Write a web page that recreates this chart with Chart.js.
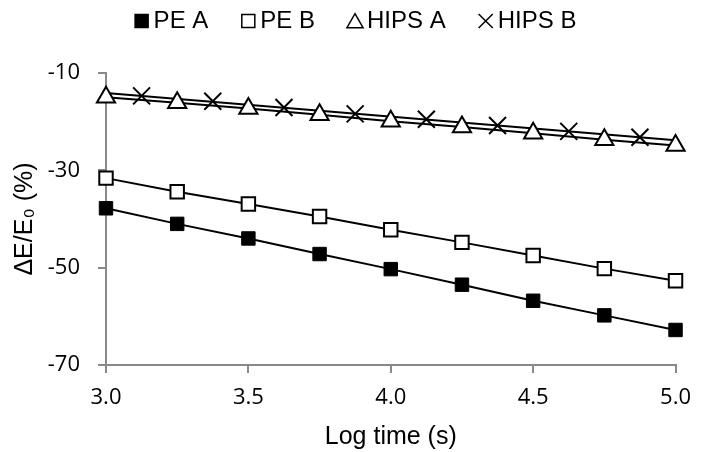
<!DOCTYPE html>
<html>
<head>
<meta charset="utf-8">
<title>Modulus change vs log time</title>
<script src="https://cdn.jsdelivr.net/npm/chart.js@4.4.1/dist/chart.umd.min.js"></script>
<style>
    html, body { margin: 0; padding: 0; background: #fff; }
    #wrap { width: 703px; height: 452px; }
</style>
</head>
<body>
<div id="wrap"><canvas id="chart" width="703" height="452"></canvas></div>
<script>
// Dados
const logTime = [3.0, 3.25, 3.5, 3.75, 4.0, 4.25, 4.5, 4.75, 5.0];
const peA = [-37.8, -41.0, -44.0, -47.2, -50.3, -53.5, -56.8, -59.8, -62.8];
const peB = [-31.6, -34.4, -36.9, -39.5, -42.2, -44.8, -47.5, -50.2, -52.7];
const hipsA = [-15.0, -16.1, -17.3, -18.6, -19.9, -21.1, -22.4, -23.7, -24.9];
const logTimeB = [3.125, 3.375, 3.625, 3.875, 4.125, 4.375, 4.625, 4.875];
const hipsB = [-14.7, -15.8, -17.1, -18.4, -19.5, -20.8, -22.0, -23.2];
// linha de tendência de HIPS B (extremos)
const hipsBTrendX = [3.0, 5.0];
const hipsBTrendY = [-14.1, -23.8];

const xTicks = { min: 3.0, max: 5.0, step: 0.5 };
const yTicks = { min: -70, max: -10, step: 20 };

const seriesNames = ["PE A", "PE B", "HIPS A", "HIPS B"];

const AXIS_GRAY = "#898989";
const TICK_FONT = { family: "'Open Sans', 'Noto Sans', sans-serif", size: 22 };
const TITLE_FONT = { family: "'Liberation Sans', 'DejaVu Sans', Arial, sans-serif", size: 25 };

function pares(xs, ys) {
    return xs.map((x, i) => ({ x: x, y: ys[i] }));
}

// Legenda desenhada à mão (estilo Excel: símbolo colado ao texto)
const legendaPlugin = {
    id: "legendaExcel",
    afterDraw(chart) {
        const ctx = chart.ctx;
        const items = chart.data.datasets.filter(ds => !ds.semLegenda);
        const fontSize = 24;
        const symbol = 14;
        const gapSym = 5;
        const gapItem = 33;
        ctx.save();
        ctx.font = fontSize + "px 'Liberation Sans', Arial, sans-serif";
        const widths = items.map(ds => ctx.measureText(ds.label).width);
        let total = 0;
        widths.forEach(w => { total += symbol + gapSym + w; });
        total += gapItem * (items.length - 1);
        let x = chart.width / 2 + 4 - total / 2;
        const y = 21;
        items.forEach((ds, i) => {
            const style = ds.pointStyle;
            let radius = 9.2;
            if (style === "triangle") radius = 9.3;
            if (style === "crossRot") radius = 10;
            ctx.fillStyle = ds.pointBackgroundColor;
            ctx.strokeStyle = "#000";
            ctx.lineWidth = 1.5;
            const cy = style === "triangle" ? y + 2 : y;
            Chart.helpers.drawPoint(ctx, { pointStyle: style, radius: radius, borderWidth: 1.5, rotation: 0 }, x + symbol / 2, cy);
            ctx.fillStyle = "#000";
            ctx.textBaseline = "middle";
            ctx.textAlign = "left";
            ctx.fillText(ds.label, x + symbol + gapSym, y);
            x += symbol + gapSym + widths[i] + gapItem;
        });
        ctx.restore();
    }
};

function serie(label, xs, ys, estilo, extra) {
    return Object.assign({
        label: label,
        data: pares(xs, ys),
        showLine: true,
        borderColor: "#000",
        borderWidth: 2,
        pointStyle: estilo,
        pointBorderColor: "#000",
        pointBorderWidth: 2,
        pointHoverRadius: 0,
        clip: false,
        order: 1
    }, extra);
}

const datasets = [
    serie(seriesNames[0], logTime, peA, "rect", { pointRadius: 9.5, pointBackgroundColor: "#000", pointBorderWidth: 1 }),
    serie(seriesNames[1], logTime, peB, "rect", { pointRadius: 9.5, pointBackgroundColor: "#fff" }),
    serie(seriesNames[2], logTime, hipsA, "triangle", { pointRadius: 10.5, pointBackgroundColor: "#fff" }),
    serie(seriesNames[3], logTimeB, hipsB, "crossRot", { pointRadius: 12, pointBackgroundColor: "#fff", showLine: false }),
    {
        label: "HIPS B trend",
        semLegenda: true,
        data: pares(hipsBTrendX, hipsBTrendY),
        showLine: true,
        borderColor: "#000",
        borderWidth: 2,
        pointRadius: 0,
        clip: false,
        order: 2
    }
];

new Chart(document.getElementById("chart"), {
    type: "scatter",
    data: { datasets: datasets },
    plugins: [legendaPlugin],
    options: {
        responsive: false,
        animation: false,
        devicePixelRatio: 1,
        layout: { padding: { top: 73, right: 20, bottom: 0, left: 0 } },
        plugins: {
            legend: { display: false },
            tooltip: { enabled: false }
        },
        scales: {
            x: {
                type: "linear",
                min: xTicks.min,
                max: xTicks.max,
                afterFit: (scale) => { scale.height = 87; },
                ticks: {
                    stepSize: xTicks.step,
                    color: "#000",
                    font: TICK_FONT,
                    padding: 12,
                    maxRotation: 0,
                    callback: (v) => Number(v).toFixed(1)
                },
                grid: { drawOnChartArea: false, drawTicks: true, tickLength: 8, color: AXIS_GRAY, lineWidth: 2 },
                border: { color: AXIS_GRAY, width: 2 },
                title: { display: true, text: "Log time (s)", color: "#000", font: TITLE_FONT, padding: { top: 0, bottom: 0 } }
            },
            y: {
                min: yTicks.min,
                max: yTicks.max,
                afterFit: (scale) => { scale.width = 106; },
                ticks: {
                    stepSize: yTicks.step,
                    color: "#000",
                    font: TICK_FONT,
                    padding: 18
                },
                grid: { drawOnChartArea: false, drawTicks: true, tickLength: 8, color: AXIS_GRAY, lineWidth: 2 },
                border: { color: AXIS_GRAY, width: 2 },
                title: { display: true, text: "ΔE/E₀ (%)", color: "#000", font: TITLE_FONT, padding: { top: 10, bottom: 0 } }
            }
        }
    }
});
</script>
</body>
</html>
